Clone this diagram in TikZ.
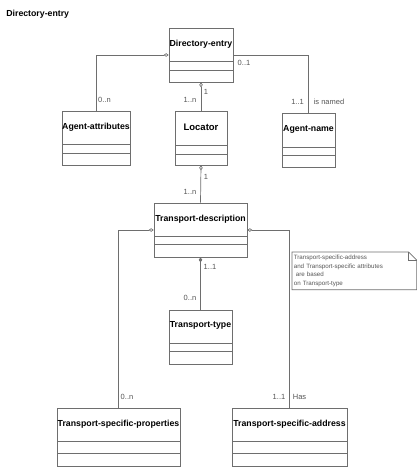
\documentclass[tikz,border=0pt]{standalone}
\usepackage{fontspec}
\setmainfont{Liberation Sans}
\usetikzlibrary{arrows.meta}
\definecolor{linegray}{HTML}{6E6E6E}
\definecolor{labelgray}{HTML}{555555}

\begin{document}
\begin{tikzpicture}[x=1pt, y=-1pt, line width=0.7pt,
  parts/.style 2 args={path picture={
    \draw[linegray] ([yshift=-#1]path picture bounding box.north west) -- ([yshift=-#1]path picture bounding box.north east)
      ([yshift=-#2]path picture bounding box.north west) -- ([yshift=-#2]path picture bounding box.north east);}},
  cls/.style={draw=linegray, minimum height=54pt, inner sep=0pt, parts={33pt}{42pt}},
  clsname/.style={font=\fontsize{8.75}{10}\selectfont\bfseries, inner sep=0pt},
  lbl/.style={font=\fontsize{7.5}{9}\selectfont, text=labelgray, inner sep=0pt},
  agg/.style={{Diamond[open,length=5pt,width=3.5pt]}-, draw=linegray},
  comp/.style={{Diamond[length=5pt,width=3.5pt]}-, draw=linegray},
  assoc/.style={draw=linegray},
  note/.style={font=\fontsize{6.2}{8.7}\selectfont, text=labelgray, align=left, text width=121pt,
    inner xsep=1.5pt, inner ysep=1.5pt, minimum height=37pt}]
\useasboundingbox (0,0) rectangle (417,468);

% title
\node[clsname, anchor=west] (title) at (6,14) {Directory-entry};

% classes
\node[cls, minimum width=64pt] (de) at (201,55) {};
\node[clsname] (de-n) at ([yshift=-16.5pt]de.north) {Directory-entry};
\node[cls, minimum width=68pt] (aa) at (96,138) {};
\node[clsname] (aa-n) at ([yshift=-16.5pt]aa.north) {Agent-attributes};
\node[cls, minimum width=52pt, parts={34pt}{43pt}] (loc) at (201,138) {};
\node[clsname, font=\fontsize{9.5}{11}\selectfont\bfseries] (loc-n) at ([yshift=-17pt]loc.north) {Locator};
\node[cls, minimum width=53pt, parts={34pt}{42pt}] (an) at (308.5,140) {};
\node[clsname] (an-n) at ([yshift=-17pt]an.north) {Agent-name};
\node[cls, minimum width=93pt, parts={33pt}{41pt}] (td) at (200.5,230) {};
\node[clsname] (td-n) at ([yshift=-16.5pt]td.north) {Transport-description};
\node[cls, minimum width=63pt, parts={32.5pt}{41pt}] (tt) at (200.5,337.5) {};
\node[clsname] (tt-n) at ([yshift=-15.5pt]tt.north) {Transport-type};
\node[cls, minimum width=123pt, minimum height=58pt, parts={33.5pt}{45.5pt}] (tsp) at (118.5,437) {};
\node[clsname] (tsp-n) at ([yshift=-16.5pt]tsp.north) {Transport-specific-properties};
\node[cls, minimum width=115pt, minimum height=58pt, parts={33.5pt}{45.5pt}] (tsa) at (289.5,437) {};
\node[clsname] (tsa-n) at ([yshift=-16.5pt]tsa.north) {Transport-specific-address};

% connectors
\draw[agg] (de.west) -| (aa.north);
\draw[assoc] (de.east) -| (an.north);
\draw[agg] (de.south) -- (loc.north);
\draw[agg] (loc.south) -- (td.north);
\draw[agg] (td.west) -| (tsp.north);
\draw[agg] (td.east) -| (tsa.north);
\draw[comp] (td.south) -- (tt.north);

% multiplicities
\node[lbl] (m-aa) at (104.5,100) {0..n};
\node[lbl] (m-de) at (244,63) {0..1};
\node[lbl] (m-an) at (297.5,101.5) {1..1};
\node[lbl] (r-an) at (329,101.5) {is named};
\node[lbl] (m-de2) at (206,92) {1};
\node[lbl] (m-loc) at (190,100) {1..n};
\node[lbl] (m-loc2) at (206,177) {1};
\node[lbl] (m-td) at (190,192) {1..n};
\node[lbl] (m-td2) at (210,267) {1..1};
\node[lbl] (m-tt) at (190,298) {0..n};
\node[lbl] (m-tsp) at (127,397) {0..n};
\node[lbl] (m-tsa) at (279,397) {1..1};
\node[lbl] (r-tsa) at (299.5,397) {Has};

% note
\node[note, anchor=north west] (nt) at (292,252) {Transport-specific-address\\and Transport-specific attributes\\\ are based\\on Transport-type};
\draw[linegray] (nt.south west) -- (nt.north west) -- ([xshift=-8pt]nt.north east) -- ([yshift=-8pt]nt.north east) -- (nt.south east) -- cycle;
\draw[linegray] ([xshift=-8pt]nt.north east) |- ([yshift=-8pt]nt.north east);
\end{tikzpicture}
\end{document}
